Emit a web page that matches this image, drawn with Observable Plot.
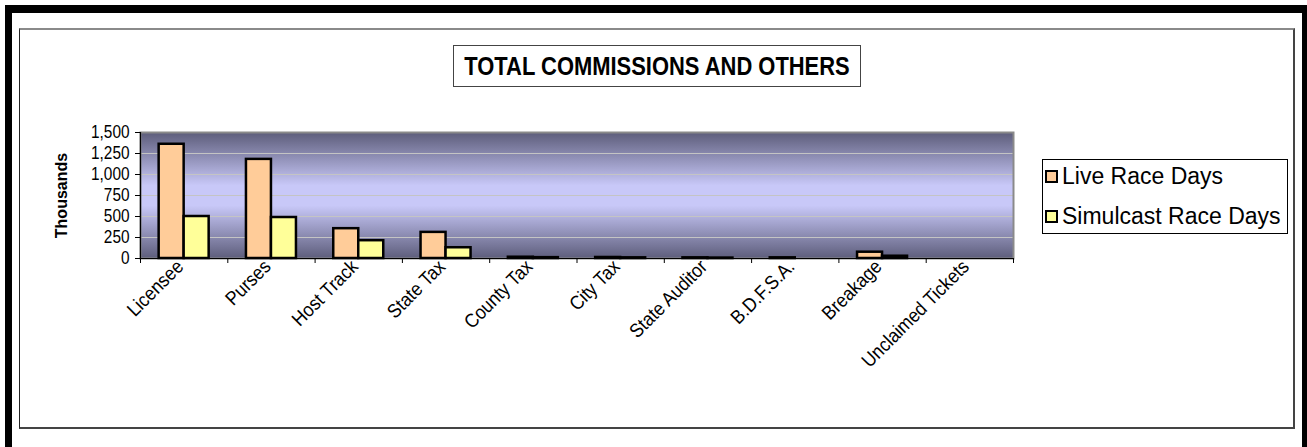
<!DOCTYPE html>
<html>
<head>
<meta charset="utf-8">
<script src="https://cdn.jsdelivr.net/npm/d3@7"></script>
<script src="https://cdn.jsdelivr.net/npm/@observablehq/plot@0.6"></script>
<style>
  html, body { margin: 0; padding: 0; background: #fff; }
  body { width: 1307px; height: 447px; overflow: hidden; position: relative; font-family: "Liberation Sans", Arial, sans-serif; }
  #outer { position: absolute; left: 5px; top: 5px; width: 1290px; height: 460px; border-top: 8px solid #000; border-left: 7px solid #000; border-right: 8px solid #000; }
  #inner { position: absolute; left: 19px; top: 28px; width: 1273px; height: 397px; border-top: 2px solid #8a8a8a; border-left: 1px solid #222; border-right: 2px solid #444; border-bottom: 2px solid #444; }
  #title { position: absolute; left: 453px; top: 45px; width: 406px; height: 40px; border: 1px solid #444; font-weight: bold; font-size: 25.5px; line-height: 40px; white-space: nowrap; }
  #title span { position: absolute; left: 50%; top: 0; transform: translateX(-50%) scaleX(0.86); }
  #chart { position: absolute; left: 0; top: 0; }
  #legend { position: absolute; left: 1042px; top: 159px; width: 244px; height: 73px; border: 1px solid #000; background: #fff; }
  .item { position: absolute; left: 2px; height: 30px; display: flex; align-items: center; font-size: 23px; white-space: nowrap; }
  .sw { width: 9px; height: 9px; border: 2px solid #000; margin-right: 4px; }
</style>
</head>
<body>
<div id="outer"></div>
<div id="inner"></div>
<div id="title"><span>TOTAL COMMISSIONS AND OTHERS</span></div>
<div id="chart"></div>
<div id="legend"></div>
<script>
const categories = ["Licensee", "Purses", "Host Track", "State Tax", "County Tax", "City Tax", "State Auditor", "B.D.F.S.A.", "Breakage", "Unclaimed Tickets"];
const seriesNames = ["Live Race Days", "Simulcast Race Days"];
const seriesColors = ["#ffcc99", "#ffff99"];
const liveValues = [1360, 1180, 355, 311, 15, 12, 8, 8, 75, 0];
const simulcastValues = [500, 488, 212, 128, 10, 8, 5, 0, 27, 0];
const yTicks = [0, 250, 500, 750, 1000, 1250, 1500];
const gridTicks = [250, 500, 750, 1000, 1250];
const yTitle = "Thousands";

const live = categories.map((c, i) => ({category: c, value: liveValues[i]})).filter(d => d.value > 0);
const sim = categories.map((c, i) => ({category: c, value: simulcastValues[i]})).filter(d => d.value > 0);

const W = 1307, H = 447;
const mL = 140, mR = 294, mT = 132, mB = 189;
const bw = (W - mL - mR) / categories.length;
const barW = 25;
const FONT = "Liberation Sans, Arial, sans-serif";

const chart = Plot.plot({
  width: W, height: H,
  marginLeft: mL, marginRight: mR, marginTop: mT, marginBottom: mB,
  style: {background: "transparent", fontFamily: FONT, color: "#000"},
  x: {type: "band", domain: categories, padding: 0, round: false},
  y: {domain: [0, 1500], ticks: yTicks},
  marks: [
    Plot.frame({fill: "url(#bggrad)"}),
    Plot.ruleY(gridTicks, {stroke: "#c4c4c4", strokeWidth: 1.2}),
    Plot.frame({stroke: "#8a8a8a", strokeWidth: 2}),
    Plot.barY(live, {x: "category", y: "value", fill: seriesColors[0], stroke: "#000", strokeWidth: 2.5,
      insetLeft: bw / 2 - barW, insetRight: bw / 2}),
    Plot.barY(sim, {x: "category", y: "value", fill: seriesColors[1], stroke: "#000", strokeWidth: 2.5,
      insetLeft: bw / 2, insetRight: bw / 2 - barW}),
    Plot.axisY({ticks: yTicks, tickFormat: d3.format(","), tickSize: 5, tickPadding: 6, fontSize: 17.5, label: null}),
    Plot.text([yTitle], {frameAnchor: "left", textAnchor: "middle", dx: -79, rotate: -90, fontSize: 16,
      fontWeight: "bold", ariaLabel: "ytitle"}),
    Plot.ruleX([categories[0]], {dx: -bw / 2, stroke: "#000", strokeWidth: 1.2}),
    Plot.ruleY([0], {stroke: "#000", strokeWidth: 1.2}),
    Plot.axisX({tickSize: 5, tickFormat: () => "", dx: -bw / 2, label: null}),
    Plot.axisX({ticks: [categories[categories.length - 1]], tickSize: 5, tickFormat: () => "", dx: bw / 2, label: null}),
    Plot.axisX({tickSize: 0, tickRotate: -45, tickPadding: 5, dx: -4, fontSize: 19.5, label: null})
  ]
});

// vertical gradient background
const ns = "http://www.w3.org/2000/svg";
const defs = document.createElementNS(ns, "defs");
const grad = document.createElementNS(ns, "linearGradient");
grad.setAttribute("id", "bggrad");
grad.setAttribute("x1", "0"); grad.setAttribute("y1", "0");
grad.setAttribute("x2", "0"); grad.setAttribute("y2", "1");
[[0, "#5d5d7b"], [0.42, "#c8c8f8"], [0.58, "#c8c8f8"], [1, "#5d5d7b"]].forEach(([o, c]) => {
  const s = document.createElementNS(ns, "stop");
  s.setAttribute("offset", o); s.setAttribute("stop-color", c);
  grad.appendChild(s);
});
defs.appendChild(grad);
chart.insertBefore(defs, chart.firstChild);

// condense glyphs along the baseline, like the reference's narrow rendering
function squeeze(selector, s) {
  chart.querySelectorAll(selector).forEach(text => {
    const x = parseFloat(text.getAttribute("x")) || 0;
    const t = text.getAttribute("transform") || "";
    text.setAttribute("transform", `${t} translate(${x},0) scale(${s},1) translate(${-x},0)`);
  });
}
squeeze("[aria-label='y-axis tick label'] text", 0.88);
squeeze("[aria-label='ytitle'] text", 0.88);
squeeze("[aria-label='x-axis tick label'] text", 0.9);
document.getElementById("chart").appendChild(chart);

// Legend
const legend = document.getElementById("legend");
seriesNames.forEach((name, i) => {
  const item = document.createElement("div");
  item.className = "item";
  item.style.top = (i === 0 ? 1 : 41) + "px";
  const sw = document.createElement("div");
  sw.className = "sw";
  sw.style.background = seriesColors[i];
  const tx = document.createElement("span");
  tx.textContent = name;
  item.appendChild(sw); item.appendChild(tx);
  legend.appendChild(item);
});
</script>
</body>
</html>
